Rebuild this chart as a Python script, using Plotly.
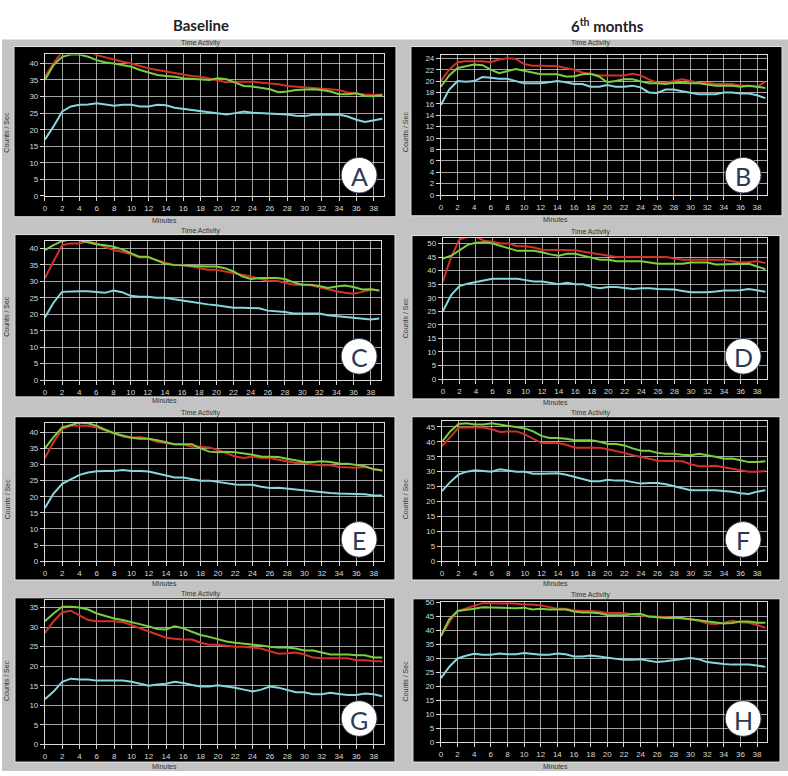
import plotly.graph_objects as go

W, H = 788, 776
minutes = list(range(40))
x_ticks = list(range(0, 40, 2))
panel_labels = ["A", "B", "C", "D", "E", "F", "G", "H"]

red_A = [36, 40, 43.5, 44, 44, 43.5, 42.5, 41.8, 41, 40.5, 40, 39.2, 38.5, 38, 37.5, 37, 36.5, 36.2, 36, 35.5, 35, 34.3, 34.5, 34.6, 34.5, 34.2, 34, 33.7, 33.2, 33, 33, 32.8, 32.6, 32.4, 32, 31.2, 30.8, 30.6, 30.5, 30.6]
green_A = [35, 39.5, 42, 42.7, 42.7, 42, 41, 40.3, 40, 39.5, 39, 38, 37.2, 36.5, 36.2, 36, 35.5, 35.3, 35.1, 35, 35.5, 35.2, 34.2, 33.2, 33, 32.7, 32.2, 31.3, 31.5, 32, 32.2, 32.2, 32, 31.5, 30.7, 30.7, 31, 30.2, 30.1, 30.5]
cyan_A = [17, 21, 25.5, 27, 27.5, 27.6, 28, 27.6, 27.2, 27.5, 27.5, 27, 27, 27.5, 27.4, 26.6, 26.3, 26, 25.6, 25.2, 25, 24.6, 25, 25.5, 25.1, 25, 25, 24.9, 24.6, 24.2, 24.1, 24.5, 24.6, 24.5, 24.6, 24, 23, 22.3, 22.8, 23.3]

red_B = [20, 22, 23.3, 23.5, 23.5, 23.5, 23.3, 23.8, 24, 23.9, 23, 22.7, 22.7, 22.7, 22.6, 22.3, 22, 21.5, 21.3, 21, 21, 21, 21, 21.3, 21, 20.3, 19.7, 19.7, 20, 20.3, 20, 19.7, 19.7, 19.5, 19.5, 19.5, 19.2, 19.2, 19, 19.9]
green_B = [19, 21, 22.3, 22.6, 22.9, 22.8, 22, 21.4, 21.8, 22.1, 21.8, 21.5, 21.2, 21.2, 21.2, 20.8, 20.8, 21.2, 21.3, 20.8, 19.8, 20, 20.3, 20.3, 20, 19.6, 19.6, 19.5, 19.7, 19.6, 19.6, 19.6, 19.4, 19.2, 19.2, 19.2, 19, 19.2, 19, 18.8]
cyan_B = [15.8, 18.5, 20, 19.9, 20, 20.7, 20.6, 20.4, 20.4, 20, 19.6, 19.6, 19.6, 19.8, 20, 19.8, 19.5, 19.5, 19, 19, 19.3, 19, 19, 19.2, 18.9, 18, 17.9, 18.5, 18.5, 18.2, 17.9, 17.7, 17.7, 17.7, 18, 18, 17.8, 17.8, 17.5, 17]

red_C = [31, 36, 41, 41.5, 41.5, 42.2, 41.5, 40.5, 39.5, 39, 38.3, 37.3, 37.3, 36.5, 35.8, 35, 35, 34.5, 34, 33.5, 33.5, 33, 32.7, 32, 31.5, 30.8, 30.2, 30.2, 29.7, 29, 29, 28.8, 28.2, 27.5, 27, 26.5, 26.2, 26.8, 27.5, 27.2]
green_C = [39.5, 41, 42.2, 42.8, 42.5, 41.8, 41.3, 41, 40.5, 39.7, 38.5, 37.5, 37.5, 36.5, 35.3, 35, 34.8, 34.8, 34.6, 34.5, 34.5, 34, 33, 31.5, 30.7, 31, 31, 31, 30.7, 29.7, 29, 29, 28.6, 28, 28.4, 28.7, 28.3, 27.5, 27.6, 27.2]
cyan_C = [19, 23.5, 26.8, 27, 27, 27, 26.8, 26.5, 27.2, 26.7, 25.6, 25.3, 25.3, 25, 25, 24.7, 24.2, 23.8, 23.3, 23, 22.7, 22.4, 22, 22, 21.8, 21.8, 21.1, 21, 20.7, 20.2, 20.2, 20.2, 20.2, 19.7, 19.4, 19.2, 19, 18.6, 18.4, 18.7]

red_D = [36, 45, 51.5, 52.5, 52.5, 51, 50.7, 50, 50, 49, 49, 48.5, 47.7, 47.7, 47.7, 47.5, 47.5, 47, 46.5, 46, 45.5, 45, 45, 45, 45, 45, 45, 45, 44.5, 44, 44, 44, 44, 44, 44, 43.5, 43, 43.2, 43.5, 42.8]
green_D = [44.5, 45.5, 47.5, 49.5, 50.3, 50.5, 50, 49.2, 48.2, 47.3, 47.3, 47.3, 46.8, 46, 45.5, 46.2, 46.2, 45.5, 44.7, 44, 44, 43.5, 43.5, 43.5, 43.5, 43, 42.5, 42.5, 42.5, 42.5, 43, 43, 43, 42.3, 42.3, 42.3, 42.5, 42.5, 41.5, 40.5]
cyan_D = [25, 31, 34.3, 35.2, 35.8, 36.5, 37, 37, 37, 37, 36.5, 36, 36, 35.5, 35, 35.5, 35, 35, 34, 33.5, 34, 34, 33.5, 33.2, 33.5, 33.5, 33.2, 33, 33, 32.5, 32, 32, 32, 32.3, 32.7, 32.7, 32.8, 33.2, 32.8, 32.2]

red_E = [32, 37, 41, 42, 42, 42, 41.5, 40.5, 39.5, 38.7, 38.3, 38.5, 38, 37, 36.7, 36.2, 36.2, 35.5, 35.5, 35.3, 34.5, 33.5, 32.5, 32, 32.5, 32, 32, 31.5, 31, 30.5, 30.5, 30, 29.8, 29.8, 29.2, 29, 29, 29.2, 28.5, 28]
green_E = [35, 38.5, 41.5, 42.3, 43, 42.8, 42, 40.8, 39.7, 39, 38.3, 38, 38, 37.5, 36.8, 36.3, 36.3, 36.3, 35, 34, 33.8, 34, 33.8, 33.5, 33, 32.5, 32.3, 32.3, 31.8, 31.3, 30.8, 30.8, 31, 30.8, 30.3, 30.2, 29.8, 29.5, 28.5, 28.2]
cyan_E = [16.5, 21, 24, 25.5, 26.8, 27.5, 27.9, 28, 28, 28.3, 28, 28, 27.8, 27.2, 26.5, 26, 26, 25.4, 25, 25, 24.6, 24.2, 23.8, 23.7, 23.7, 23.1, 22.7, 22.8, 22.5, 22.3, 22, 21.7, 21.4, 21.2, 21, 21, 21, 20.8, 20.4, 20.4]

red_F = [38.5, 41.5, 44.7, 44.8, 44.8, 44.8, 44.2, 43.3, 43.5, 43.5, 42.5, 41, 39.6, 39.6, 39.6, 39, 38, 38, 38, 38, 37.5, 37, 36.3, 35.5, 35, 34.3, 33.7, 33.7, 33.7, 33.5, 32.5, 31.8, 31.8, 32, 31.5, 31, 30.5, 30, 30, 30.2]
green_F = [40, 43.5, 46, 46.2, 45.8, 45.8, 46.2, 45.8, 45.2, 45, 44.5, 43.5, 42, 41.3, 41.3, 41, 40.5, 40.5, 40.5, 40, 39.3, 39.3, 38.8, 37.8, 37, 37, 36.3, 36, 36, 35.7, 35.5, 36, 35.6, 35, 34.3, 34.4, 33.8, 33.2, 33.2, 33.5]
cyan_F = [23.5, 26.5, 29, 30, 30.5, 30.3, 30, 30.8, 30.5, 30, 30, 29.3, 29.3, 29.3, 29.5, 29, 28.2, 27.5, 26.8, 26.8, 27.3, 27, 27, 26.5, 26, 26.2, 26.2, 25.8, 25.2, 24.5, 23.8, 23.8, 23.8, 23.8, 23.5, 23.3, 22.8, 22.5, 23.3, 23.8]

red_G = [28.5, 31.5, 33.8, 34.2, 33, 31.8, 31.5, 31.5, 31.5, 31.3, 30.5, 29.5, 28.8, 28, 27.3, 27, 26.8, 26.8, 26, 25.5, 25.5, 25.2, 25, 25, 24.8, 24.5, 23.8, 23.2, 23.3, 23.5, 23, 22.2, 22, 22, 22, 22, 21.5, 21.5, 21.3, 21.2]
green_G = [31.5, 33.5, 35.2, 35.2, 35, 34.5, 33.5, 32.8, 32.2, 31.8, 31.3, 30.8, 30.2, 29.5, 29.4, 30.2, 29.7, 28.8, 28, 27.5, 26.8, 26.3, 26, 25.8, 25.5, 25.3, 25, 24.8, 24.8, 24.5, 24, 24, 23.5, 23, 23, 23, 22.8, 22.8, 22.2, 22.2]
cyan_G = [11.5, 13.5, 16, 16.8, 16.6, 16.6, 16.3, 16.3, 16.3, 16.3, 16, 15.5, 15, 15.3, 15.5, 16, 15.7, 15.2, 14.8, 14.8, 15.1, 14.8, 14.5, 14, 13.5, 14, 14.8, 14.5, 13.8, 13.3, 13.3, 12.8, 12.8, 13.2, 12.9, 12.6, 12.6, 13, 12.8, 12.3]

red_H = [38, 43, 47, 48, 49, 49.8, 49.8, 49.7, 49.7, 49.7, 49.3, 49.3, 49, 48.3, 47.8, 47.8, 47.2, 47, 47, 46.7, 46.3, 46.3, 46.3, 45.8, 45.3, 45, 45, 44.8, 44.7, 44.3, 44, 43.5, 42.5, 42.3, 42.8, 43.5, 43, 42.8, 42, 41]
green_H = [38, 44, 47, 47.3, 47.8, 48.3, 48.2, 48.2, 48, 48, 48.2, 47.5, 47.8, 47.5, 47.5, 47.5, 46.8, 46.5, 46.5, 46.2, 45.6, 45.5, 45.5, 45.8, 46, 45, 44.7, 44.5, 44.5, 44.5, 44, 43.6, 43.2, 42.8, 42.5, 42.7, 43.2, 43.2, 42.8, 42.8]
cyan_H = [23, 27, 30, 31, 31.7, 31.3, 31.3, 31.8, 31.5, 31.5, 32, 31.7, 31.3, 31.3, 31.8, 31.5, 30.7, 30.7, 31.1, 30.7, 30.3, 29.8, 29.5, 29.5, 29.7, 29.2, 28.7, 29, 29.5, 29.8, 30.2, 29.7, 28.7, 28.3, 28, 27.8, 27.8, 27.8, 27.5, 27]

series = {
    "A": (red_A, green_A, cyan_A), "B": (red_B, green_B, cyan_B),
    "C": (red_C, green_C, cyan_C), "D": (red_D, green_D, cyan_D),
    "E": (red_E, green_E, cyan_E), "F": (red_F, green_F, cyan_F),
    "G": (red_G, green_G, cyan_G), "H": (red_H, green_H, cyan_H),
}
y_max = {"A": 42.7, "B": 24.5, "C": 42.4, "D": 52.2, "E": 43, "F": 47.1, "G": 37, "H": 50.3}
y_step = {"A": 5, "B": 2, "C": 5, "D": 5, "E": 5, "F": 5, "G": 5, "H": 5}

# layout geometry in pixels
plot_px = {
    "A": (43, 383, 52, 195), "B": (440, 767, 53, 194),
    "C": (43, 380, 240, 381), "D": (442, 767, 237, 380),
    "E": (43, 383, 424, 564), "F": (441, 767, 422, 564),
    "G": (43, 383, 603, 749), "H": (440, 767, 605, 747),
}
black_px = {
    "A": (12, 395, 44, 216), "B": (410, 782, 44, 215),
    "C": (13, 394, 234, 398), "D": (411, 780, 235, 400),
    "E": (13, 394, 418, 583), "F": (411, 780, 418, 583),
    "G": (13, 394, 601, 767), "H": (412, 780, 602, 767),
}
circle_c = {"A": (358, 174), "B": (743, 174), "C": (358, 357), "D": (743, 357),
            "E": (358, 542), "F": (743, 542), "G": (358, 723), "H": (743, 723)}

def px(x):
    return x / W

def py(y):
    return 1 - y / H

RED, GREEN, CYAN = "#d3302a", "#79cf3c", "#86d7de"
GRID = "rgba(215,215,215,0.75)"
TICKC = "#d8d8d8"

fig = go.Figure()
layout = dict(
    width=W, height=H, margin=dict(l=0, r=0, t=0, b=0),
    paper_bgcolor="white", plot_bgcolor="black", showlegend=False,
    font=dict(family="Liberation Sans, Arial, sans-serif"),
)
shapes = [dict(type="rect", xref="paper", yref="paper", x0=0, x1=1, y0=0, y1=py(37),
               fillcolor="#c3c3c3", line=dict(width=0), layer="below")]
annotations = []

def ann(text, x, y, size, color, family=None, angle=0):
    f = dict(size=size, color=color)
    if family:
        f["family"] = family
    return dict(text=text, x=px(x), y=py(y), xref="paper", yref="paper",
                xanchor="center", yanchor="middle", showarrow=False,
                textangle=angle, font=f)

for i, lab in enumerate(panel_labels):
    n = "" if i == 0 else str(i + 1)
    x0, x1, y0, y1 = plot_px[lab]
    bx0, bx1, by0, by1 = black_px[lab]
    shapes.append(dict(type="rect", xref="paper", yref="paper",
                       x0=px(bx0), x1=px(bx1), y0=py(by1), y1=py(by0),
                       fillcolor="black", line=dict(color="#e6e6e6", width=1), layer="below"))
    ymax = y_max[lab]
    step = y_step[lab]
    yt = [v for v in range(0, int(ymax) + 1, step)]
    layout["xaxis" + n] = dict(
        domain=[px(x0), px(x1)], range=[0, 39.2], anchor="y" + n,
        tickvals=x_ticks, ticktext=[str(v) for v in x_ticks],
        showgrid=True, gridcolor=GRID, gridwidth=1,
        ticks="outside", ticklen=4, tickcolor=TICKC,
        tickfont=dict(size=8, color=TICKC),
        showline=True, linecolor="#dcdcdc", linewidth=1, mirror=True,
        zeroline=False, fixedrange=True,
    )
    layout["yaxis" + n] = dict(
        domain=[py(y1), py(y0)], range=[0, ymax], anchor="x" + n,
        tickvals=yt, ticktext=[str(v) for v in yt],
        showgrid=True, gridcolor=GRID, gridwidth=1,
        ticks="outside", ticklen=4, tickcolor=TICKC,
        tickfont=dict(size=8, color=TICKC),
        showline=True, linecolor="#dcdcdc", linewidth=1, mirror=True,
        zeroline=False, fixedrange=True,
    )
    r, g, c = series[lab]
    for vals, col in ((c, CYAN), (r, RED), (g, GREEN)):
        fig.add_trace(go.Scatter(x=minutes, y=vals, mode="lines",
                                 line=dict(color=col, width=2),
                                 xaxis="x" + n, yaxis="y" + n, hoverinfo="skip"))
    left = i % 2 == 0
    ta_x = 200 if left else 590
    mn_x = 163 if left else 555
    annotations.append(ann("Time Activity", ta_x, by0 - 4, 7, "#333333"))
    annotations.append(ann("Minutes", mn_x, min(by1 + 4, 772), 7, "#333333"))
    annotations.append(ann("Counts / Sec", 5 if left else 404, (by0 + by1) / 2, 7, "#333333", angle=-90))
    cx, cy = circle_c[lab]
    rr = 18
    shapes.append(dict(type="circle", xref="paper", yref="paper",
                       x0=px(cx - rr), x1=px(cx + rr), y0=py(cy + rr), y1=py(cy - rr),
                       fillcolor="white", line=dict(color="#2b3a55", width=1), layer="above"))
    annotations.append(ann(lab, cx, cy + 1, 25, "#2b3a55", "Lato, Open Sans, sans-serif"))

annotations.append(ann("<b>Baseline</b>", 200, 22, 15, "#222222", "Lato, Open Sans, sans-serif"))
annotations.append(ann("<b>6<sup>th</sup> months</b>", 607, 23, 15, "#222222", "Lato, Open Sans, sans-serif"))

layout["shapes"] = shapes
layout["annotations"] = annotations
fig.update_layout(**layout)
fig.write_html("out.html", config={"displayModeBar": False},
               post_script="document.body.style.margin='0px';document.body.style.overflow='hidden';")
